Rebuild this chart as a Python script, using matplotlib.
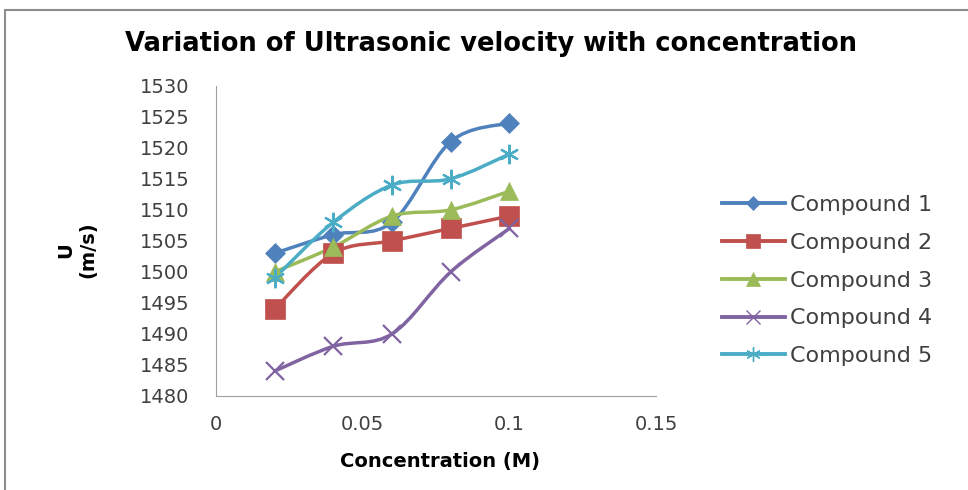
import numpy as np
import matplotlib.pyplot as plt
from matplotlib.path import Path
from matplotlib.patches import PathPatch, Rectangle

conc = [0.02, 0.04, 0.06, 0.08, 0.1]
compound_1 = [1503, 1506, 1508, 1521, 1524]
compound_2 = [1494, 1503, 1505, 1507, 1509]
compound_3 = [1500, 1504, 1509, 1510, 1513]
compound_4 = [1484, 1488, 1490, 1500, 1507]
compound_5 = [1499, 1508, 1514, 1515, 1519]
names = ["Compound 1", "Compound 2", "Compound 3", "Compound 4", "Compound 5"]

plt.rcParams['font.family'] = ['DejaVu Sans']


def smooth_path(x, y):
    """Excel-like smoothed line as cubic bezier segments through the points."""
    x = np.asarray(x, float)
    y = np.asarray(y, float)
    n = len(x)
    verts = [(x[0], y[0])]
    codes = [Path.MOVETO]
    for i in range(n - 1):
        i0 = max(i - 1, 0)
        i3 = min(i + 2, n - 1)
        c1 = (x[i] + (x[i + 1] - x[i0]) / 6, y[i] + (y[i + 1] - y[i0]) / 6)
        c2 = (x[i + 1] - (x[i3] - x[i]) / 6, y[i + 1] - (y[i3] - y[i]) / 6)
        verts += [c1, c2, (x[i + 1], y[i + 1])]
        codes += [Path.CURVE4] * 3
    return Path(verts, codes)


fig = plt.figure(figsize=(9.68, 4.9), dpi=100)
ax = fig.add_axes([0.223, 0.192, 0.455, 0.633])

# outer chart frame
fig.patches.append(Rectangle((5 / 968, -0.1), 1.2, 1.1 - 10 / 490,
                             transform=fig.transFigure, fill=False,
                             edgecolor='#8c8c8c', linewidth=1.5))

series = [compound_1, compound_2, compound_3, compound_4, compound_5]
colors = ['#4F81BD', '#C0504D', '#9BBB59', '#8064A2', '#4BACC6']
markers = ['D', 's', '^', 'x', (6, 2, 0)]
msizes = [10, 14, 13, 13, 14]

for vals, name, col, mk, ms in zip(series, names, colors, markers, msizes):
    ax.add_patch(PathPatch(smooth_path(conc, vals), facecolor='none',
                           edgecolor=col, linewidth=2.5, capstyle='round'))
    thin = mk == 'x' or isinstance(mk, tuple)
    ax.plot(conc, vals, linestyle='none', marker=mk, color=col,
            markersize=ms, markeredgewidth=1.6 if thin else 0.5)
    ax.plot([], [], color=col, linewidth=2.8, marker=mk, markersize=ms * 0.75,
            markeredgewidth=1.0 if thin else 0.5, label=name)

ax.set_xlim(0, 0.15)
ax.set_ylim(1480, 1530)
ax.set_xticks([0, 0.05, 0.1, 0.15])
ax.set_xticklabels(['0', '0.05', '0.1', '0.15'])
ax.set_yticks(np.arange(1480, 1531, 5))
ax.tick_params(length=0, labelsize=14, colors='#404040')
ax.tick_params(axis='y', pad=19)
ax.tick_params(axis='x', pad=14)
for s in ['top', 'right']:
    ax.spines[s].set_visible(False)
for s in ['left', 'bottom']:
    ax.spines[s].set_color('#a0a0a0')

ax.set_xlabel('Concentration (M)', fontsize=14, fontweight='bold')
ax.xaxis.set_label_coords(0.51, -0.18)
ax.set_ylabel('U\n(m/s)', fontsize=14, fontweight='bold')
ax.yaxis.set_label_coords(-0.27, 0.47)
fig.text(0.507, 0.91, 'Variation of Ultrasonic velocity with concentration',
         ha='center', va='center', fontsize=18.5, fontweight='bold')

ax.legend(loc='center left', bbox_to_anchor=(1.15, 0.372), frameon=False,
          fontsize=16, handlelength=2.8, handletextpad=0.25, labelspacing=0.8,
          borderaxespad=0, borderpad=0, labelcolor='#404040')

fig.savefig('out.png', dpi=100)
